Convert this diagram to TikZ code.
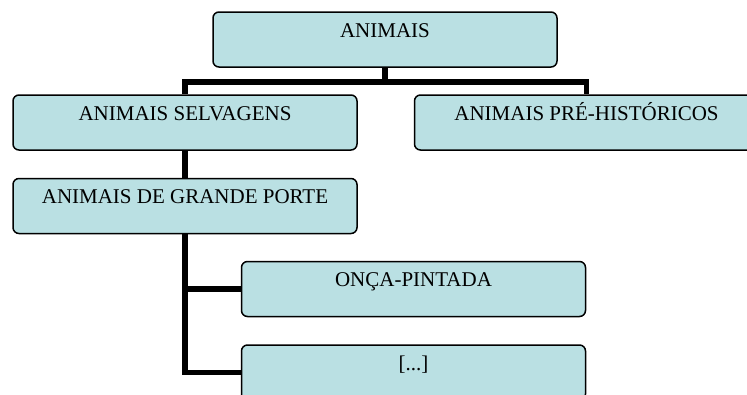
\documentclass[tikz,border=0pt]{standalone}
\usepackage{fontspec}
\setmainfont{Liberation Serif}
\usepackage{xcolor}
\usepackage{tikz}
\usetikzlibrary{positioning}

\definecolor{boxfill}{RGB}{186,224,227}

\begin{document}
\begin{tikzpicture}[
        x=1pt, y=-1pt,
        node distance=27pt,
        %
        level node/.style={
            rectangle,
            rounded corners=6pt,
            draw,
            line width=1.5pt,
            fill=boxfill,
            minimum width=344pt,
            inner xsep=0pt,
            inner ysep=0pt,
            text height=25pt,
            text depth=30pt,
            font=\fontsize{21}{24}\selectfont,
            align=center,
        },
        %
        tree edge/.style={line width=5.5pt, line join=miter},
        ]

        \useasboundingbox (0,0) rectangle (747,394);
        \clip (0,0) rectangle (747,394);

        % Vertices

        \node[level node] (animais) at (385,39.5) {ANIMAIS};
        \node[level node] (selvagens) at (185,122.5) {ANIMAIS SELVAGENS};
        \node[level node, right=56pt of selvagens] (prehist) {ANIMAIS PRÉ-HISTÓRICOS};
        \node[level node, below=of selvagens] (grande) {ANIMAIS DE GRANDE PORTE};
        \node[level node] (onca) at (413.5,289) {ONÇA-PINTADA};
        \node[level node, below=of onca] (outros) {[...]};

        % Edges

        \draw[tree edge] (animais.south) -- ++(0,14) -| (selvagens.north);
        \draw[tree edge] (animais.south) -- ++(0,14) -| (prehist.north);
        %
        \draw[tree edge] (selvagens.south) -- (grande.north);
        %
        \draw[tree edge] (grande.south) |- (onca.west);
        \draw[tree edge] (grande.south) |- (outros.west);
        %
    \end{tikzpicture}
\end{document}
